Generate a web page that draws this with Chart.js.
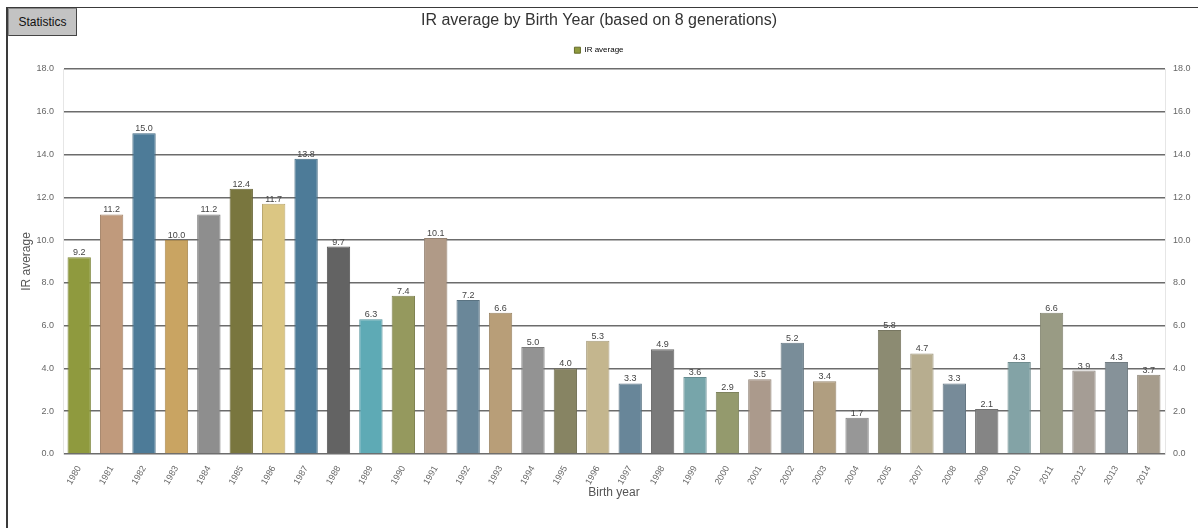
<!DOCTYPE html>
<html>
<head>
<meta charset="utf-8">
<title>IR average by Birth Year</title>
<script src="https://cdn.jsdelivr.net/npm/chart.js@4.4.1/dist/chart.umd.min.js"></script>
<style>
  html, body { margin: 0; padding: 0; background: #fff; }
  #wrap { position: relative; width: 1198px; height: 528px; overflow: hidden; }
  #chart { position: absolute; left: 0; top: 0; }
  #frame {
    position: absolute; left: 6px; top: 7px; right: 0; bottom: 0;
    border-left: 2px solid #3a3a3a; border-top: 1px solid #3a3a3a;
    pointer-events: none;
  }
  #statsBtn {
    position: absolute; left: 8px; top: 8px; width: 69px; height: 28px;
    box-sizing: border-box;
    background: #c3c3c3;
    border: 1px solid #444; border-top-color: #888; border-left-color: #888;
    font: 12px "Liberation Sans", Arial, sans-serif; color: #111;
    line-height: 26px; text-align: center;
  }
</style>
</head>
<body>
<div id="wrap">
  <canvas id="chart" width="1198" height="528"></canvas>
  <div id="frame"></div>
  <div id="statsBtn">Statistics</div>
</div>
<script>
const birthYears = ['1980', '1981', '1982', '1983', '1984', '1985', '1986', '1987', '1988', '1989',
  '1990', '1991', '1992', '1993', '1994', '1995', '1996', '1997', '1998', '1999',
  '2000', '2001', '2002', '2003', '2004', '2005', '2007', '2008', '2009', '2010',
  '2011', '2012', '2013', '2014'];

const irAverage = [9.2, 11.2, 15.0, 10.0, 11.2, 12.4, 11.7, 13.8, 9.7, 6.3,
  7.4, 10.1, 7.2, 6.6, 5.0, 4.0, 5.3, 3.3, 4.9, 3.6,
  2.9, 3.5, 5.2, 3.4, 1.7, 5.8, 4.7, 3.3, 2.1, 4.3,
  6.6, 3.9, 4.3, 3.7];

const yTicks = [0, 2, 4, 6, 8, 10, 12, 14, 16, 18];

// one colour per bar, like the original palette
const barColors = ['#8f9a3e', '#c09a7c', '#4d7b98', '#c9a462', '#8e8e8e', '#79763e', '#dbc683', '#4d7b98', '#636363', '#5eaab5',
  '#95995e', '#b09a87', '#6a8799', '#b89e78', '#939393', '#878463', '#c4b68e', '#688699', '#7a7a7a', '#77a5aa',
  '#949a6d', '#ab9a8c', '#798d99', '#b09e80', '#979797', '#8c8b72', '#b7ad8f', '#778b99', '#858585', '#83a3a6',
  '#999b84', '#a59d95', '#869299', '#a69c8c'];

const FONT = '"Liberation Sans", Arial, sans-serif';

// slightly darker edge for each bar
const darken = (hex, f) => {
  const n = parseInt(hex.slice(1), 16);
  const r = Math.round(((n >> 16) & 255) * f);
  const g = Math.round(((n >> 8) & 255) * f);
  const b = Math.round((n & 255) * f);
  return `rgb(${r}, ${g}, ${b})`;
};

const barLabels = {
  id: 'barLabels',
  afterDatasetsDraw(chart) {
    const ctx = chart.ctx;
    const meta = chart.getDatasetMeta(0);
    ctx.save();
    ctx.font = '9px ' + FONT;
    ctx.fillStyle = '#444';
    ctx.textAlign = 'center';
    ctx.textBaseline = 'alphabetic';
    meta.data.forEach((bar, i) => {
      ctx.fillText(irAverage[i].toFixed(1), bar.x, bar.y - 2);
    });
    ctx.restore();
  }
};

const ctx = document.getElementById('chart').getContext('2d');
new Chart(ctx, {
  type: 'bar',
  data: {
    labels: birthYears,
    datasets: [{
      label: 'IR average',
      data: irAverage,
      backgroundColor: barColors,
      borderColor: barColors.map(c => darken(c, 0.85)),
      borderWidth: 1,
      borderSkipped: 'bottom',
      categoryPercentage: 1.0,
      barPercentage: 0.72,
      yAxisID: 'y'
    }]
  },
  options: {
    responsive: false,
    animation: false,
    layout: { padding: { top: 0, right: 0, bottom: 0, left: 0 } },
    plugins: {
      title: {
        display: true,
        text: 'IR average by Birth Year (based on 8 generations)',
        color: '#333',
        font: { family: FONT, size: 16, weight: 'normal' },
        padding: { top: 11, bottom: 0 }
      },
      // empty spacer between the legend and the plot area
      subtitle: {
        display: true,
        text: ' ',
        weight: 500,
        font: { size: 4 },
        padding: 0
      },
      legend: {
        display: true,
        labels: {
          font: { family: FONT, size: 8 },
          color: '#444',
          boxWidth: 6,
          boxHeight: 6,
          padding: 16,
          generateLabels: () => [{
            text: 'IR average',
            fillStyle: barColors[0],
            strokeStyle: darken(barColors[0], 0.7),
            lineWidth: 1,
            hidden: false,
            datasetIndex: 0
          }]
        }
      },
      tooltip: { enabled: false }
    },
    scales: {
      x: {
        grid: { display: false },
        border: { display: false },
        ticks: {
          color: '#666',
          font: { family: FONT, size: 9 },
          minRotation: 60,
          maxRotation: 60,
          autoSkip: false,
          padding: 2
        },
        title: {
          display: true,
          text: 'Birth year',
          color: '#555',
          font: { family: FONT, size: 12 },
          padding: { top: 0, bottom: 28 }
        },
        afterFit(scale) { scale.height = 74; }
      },
      y: {
        position: 'left',
        min: 0,
        max: 18,
        afterBuildTicks(scale) { scale.ticks = yTicks.map(v => ({ value: v })); },
        grid: { color: '#6c6c6c', lineWidth: 1.6, drawTicks: false },
        border: { display: true, color: '#e6e6e6' },
        ticks: {
          color: '#666',
          font: { family: FONT, size: 9 },
          padding: 9,
          callback: v => v.toFixed(1)
        },
        title: {
          display: true,
          text: 'IR average',
          color: '#555',
          font: { family: FONT, size: 12 },
          padding: { top: 19, bottom: 0 }
        },
        afterFit(scale) { scale.width = 63; }
      },
      y2: {
        position: 'right',
        min: 0,
        max: 18,
        afterBuildTicks(scale) { scale.ticks = yTicks.map(v => ({ value: v })); },
        grid: { display: false, drawTicks: false },
        border: { display: true, color: '#e6e6e6' },
        ticks: {
          color: '#666',
          font: { family: FONT, size: 9 },
          padding: 8,
          callback: v => v.toFixed(1)
        },
        afterFit(scale) { scale.width = 33; }
      }
    }
  },
  plugins: [barLabels]
});
</script>
</body>
</html>
